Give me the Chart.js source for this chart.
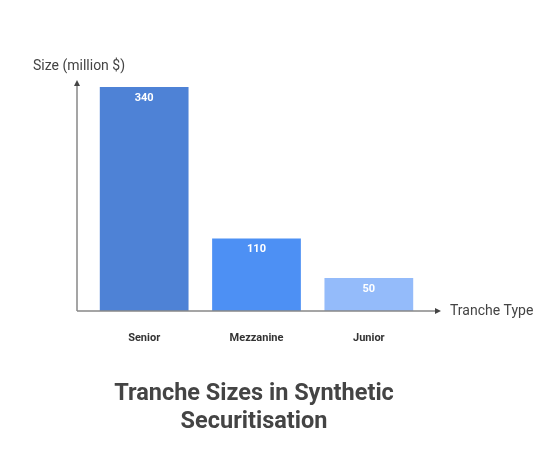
<!DOCTYPE html>
<html>
<head>
<meta charset="utf-8">
<script src="https://cdn.jsdelivr.net/npm/chart.js@4/dist/chart.umd.min.js"></script>
<style>
  html, body { margin: 0; padding: 0; background: #fff; }
  #wrap { width: 552px; height: 457px; position: relative; }
</style>
</head>
<body>
<div id="wrap"><canvas id="trancheChart"></canvas></div>
<script>
// Tranche sizes chart

const categories = ['Senior', 'Mezzanine', 'Junior'];
const sizes = [340, 110, 50];
const barColors = ['#4e82d6', '#4d90f4', '#94bbfa'];
const yAxisTitle = 'Size (million $)';
const xAxisTitle = 'Tranche Type';
const titleLines = ['Tranche Sizes in Synthetic', 'Securitisation'];

const FONT = 'Roboto, "Noto Sans", sans-serif';

const decorPlugin = {
    id: 'decor',
    afterDatasetsDraw(chart) {
        const ctx = chart.ctx;
        const area = chart.chartArea;
        const xScale = chart.scales.x;
        const yScale = chart.scales.y;
        const meta = chart.getDatasetMeta(0);

        // value labels inside bars
        ctx.save();
        ctx.fillStyle = '#ffffff';
        ctx.font = 'bold 11px ' + FONT;
        ctx.textAlign = 'center';
        ctx.textBaseline = 'middle';
        meta.data.forEach((bar, i) => {
            ctx.fillText(String(sizes[i]), bar.x, bar.y + 11);
        });

        // axes with arrows
        const x0 = area.left - 11;
        const y0 = yScale.getPixelForValue(0);
        ctx.strokeStyle = '#888888';
        ctx.lineWidth = 1.5;
        ctx.beginPath();
        ctx.moveTo(x0, y0);
        ctx.lineTo(x0, area.top - 3);
        ctx.moveTo(x0, y0);
        ctx.lineTo(area.right + 12, y0);
        ctx.stroke();

        ctx.fillStyle = '#444444';
        ctx.beginPath();
        ctx.moveTo(x0, area.top - 7);
        ctx.lineTo(x0 - 3, area.top - 1);
        ctx.lineTo(x0 + 3, area.top - 1);
        ctx.closePath();
        ctx.fill();
        ctx.beginPath();
        ctx.moveTo(area.right + 16, y0);
        ctx.lineTo(area.right + 10, y0 - 3);
        ctx.lineTo(area.right + 10, y0 + 3);
        ctx.closePath();
        ctx.fill();

        // axis titles
        ctx.fillStyle = '#444444';
        ctx.font = '14px ' + FONT;
        ctx.textAlign = 'left';
        ctx.textBaseline = 'middle';
        ctx.fillText(yAxisTitle, 33, area.top - 21);
        ctx.fillText(xAxisTitle, area.right + 25, y0);

        // category labels
        ctx.fillStyle = '#333333';
        ctx.font = 'bold 11px ' + FONT;
        ctx.textAlign = 'center';
        categories.forEach((c, i) => {
            ctx.fillText(c, xScale.getPixelForValue(i), y0 + 27);
        });

        // title
        ctx.fillStyle = '#444444';
        ctx.font = 'bold 23.5px ' + FONT;
        titleLines.forEach((line, i) => {
            ctx.fillText(line, 254, 394 + i * 28);
        });
        ctx.restore();
    }
};

new Chart(document.getElementById('trancheChart'), {
    type: 'bar',
    data: {
        labels: categories,
        datasets: [{
            data: sizes,
            backgroundColor: barColors,
            borderWidth: 0,
            barPercentage: 0.79,
            categoryPercentage: 1
        }]
    },
    options: {
        responsive: true,
        maintainAspectRatio: false,
        animation: false,
        layout: { padding: { left: 88, right: 127, top: 87, bottom: 146 } },
        plugins: { legend: { display: false }, tooltip: { enabled: false } },
        scales: {
            x: { display: false },
            y: { display: false, min: 0, max: 340 }
        }
    },
    plugins: [decorPlugin]
});
</script>
</body>
</html>
